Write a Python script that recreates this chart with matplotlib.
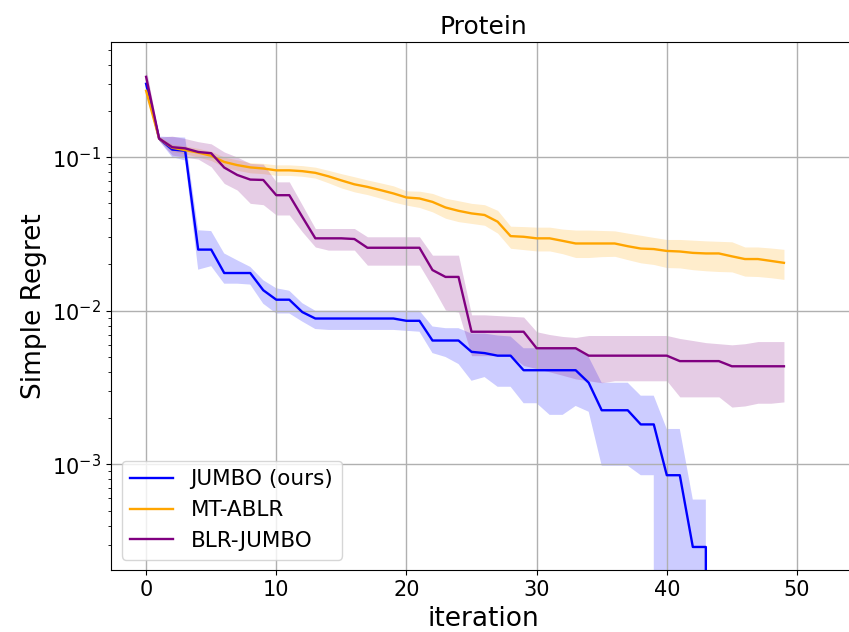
import numpy as np
import matplotlib
matplotlib.use('Agg')
import matplotlib.pyplot as plt

plt.rcParams['font.family'] = 'DejaVu Sans'

# iterations
iters = np.arange(50)

# JUMBO (ours)
jumbo_mean = [0.30, 0.132, 0.112, 0.110, 0.025, 0.025, 0.0176, 0.0176, 0.0176, 0.0136,
              0.0118, 0.0118, 0.0098, 0.0089, 0.0089, 0.0089, 0.0089, 0.0089, 0.0089, 0.0089,
              0.0086, 0.0086, 0.0064, 0.0064, 0.0064, 0.0054, 0.0053, 0.0051, 0.0051, 0.0041,
              0.0041, 0.0041, 0.0041, 0.0041, 0.0034, 0.00225, 0.00225, 0.00225, 0.00182, 0.00182,
              0.00085, 0.00085, 0.00029, 0.00029, 0, 0, 0, 0, 0, 0]
jumbo_upper = [0.34, 0.136, 0.135, 0.134, 0.0334, 0.033, 0.0236, 0.0213, 0.0193, 0.0158,
               0.0140, 0.0135, 0.0112, 0.0100, 0.0100, 0.0100, 0.0100, 0.0100, 0.0100, 0.0100,
               0.0100, 0.0100, 0.0079, 0.0077, 0.0077, 0.0071, 0.0071, 0.0069, 0.0068, 0.0057,
               0.0057, 0.0057, 0.0057, 0.0057, 0.0050, 0.0034, 0.0034, 0.0034, 0.0028, 0.0028,
               0.0017, 0.0017, 0.00059, 0.00059, 0, 0, 0, 0, 0, 0]
jumbo_lower = [0.27, 0.128, 0.100, 0.095, 0.0185, 0.0195, 0.0150, 0.0150, 0.0148, 0.0111,
               0.0096, 0.0096, 0.0085, 0.0076, 0.0075, 0.0075, 0.0075, 0.0075, 0.0075, 0.0075,
               0.0074, 0.0073, 0.0053, 0.0050, 0.0045, 0.0035, 0.0037, 0.0032, 0.0032, 0.0025,
               0.0025, 0.0021, 0.0021, 0.0024, 0.0022, 0.00098, 0.00098, 0.00098, 0.00085, 0.00085,
               0, 0, 0, 0, 0, 0, 0, 0, 0, 0]

# MT-ABLR
mt_mean = [0.27, 0.132, 0.115, 0.111, 0.107, 0.102, 0.093, 0.0887, 0.0857, 0.0843,
           0.082, 0.082, 0.081, 0.079, 0.075, 0.0705, 0.0665, 0.064, 0.061, 0.058,
           0.0546, 0.0538, 0.0511, 0.047, 0.0447, 0.043, 0.042, 0.038, 0.0306, 0.0303,
           0.0296, 0.0296, 0.0285, 0.0274, 0.0274, 0.0274, 0.0274, 0.0263, 0.0254, 0.0252,
           0.0245, 0.0243, 0.0238, 0.0236, 0.0236, 0.0226, 0.0217, 0.0217, 0.0211, 0.0205]
mt_upper = [0.29, 0.136, 0.121, 0.118, 0.114, 0.109, 0.100, 0.096, 0.092, 0.091,
            0.089, 0.089, 0.088, 0.086, 0.082, 0.078, 0.0745, 0.071, 0.068, 0.065,
            0.0603, 0.060, 0.058, 0.054, 0.052, 0.050, 0.049, 0.045, 0.0355, 0.0353,
            0.035, 0.035, 0.034, 0.0335, 0.0335, 0.0333, 0.0331, 0.032, 0.031, 0.030,
            0.0291, 0.0291, 0.0288, 0.0285, 0.0283, 0.0281, 0.026, 0.026, 0.0256, 0.0251]
mt_lower = [0.25, 0.128, 0.109, 0.105, 0.100, 0.095, 0.086, 0.082, 0.079, 0.078,
            0.076, 0.076, 0.075, 0.073, 0.068, 0.063, 0.0594, 0.057, 0.054, 0.051,
            0.0487, 0.047, 0.044, 0.040, 0.038, 0.037, 0.036, 0.032, 0.0255, 0.0250,
            0.0245, 0.0245, 0.0235, 0.0222, 0.0222, 0.0225, 0.0226, 0.0215, 0.0205, 0.020,
            0.0191, 0.019, 0.0185, 0.0182, 0.018, 0.0179, 0.0168, 0.0167, 0.0164, 0.016]

# BLR-JUMBO
blr_mean = [0.333, 0.132, 0.116, 0.114, 0.108, 0.106, 0.0855, 0.0765, 0.0714, 0.071,
            0.0565, 0.0565, 0.0408, 0.0296, 0.0296, 0.0296, 0.0293, 0.0257, 0.0257, 0.0257,
            0.0257, 0.0257, 0.0184, 0.0166, 0.0166, 0.0073, 0.0073, 0.0073, 0.0073, 0.0073,
            0.0057, 0.0057, 0.0057, 0.0057, 0.0051, 0.0051, 0.0051, 0.0051, 0.0051, 0.0051,
            0.0051, 0.0047, 0.0047, 0.0047, 0.0047, 0.00435, 0.00435, 0.00435, 0.00435, 0.00435]
blr_upper = [0.38, 0.135, 0.137, 0.132, 0.126, 0.122, 0.108, 0.100, 0.091, 0.090,
             0.069, 0.069, 0.0487, 0.0343, 0.0343, 0.0343, 0.0343, 0.0303, 0.0303, 0.0303,
             0.0303, 0.0303, 0.023, 0.023, 0.023, 0.0094, 0.0094, 0.0093, 0.0092, 0.0091,
             0.0073, 0.0070, 0.0068, 0.0067, 0.0069, 0.0069, 0.0069, 0.0069, 0.0069, 0.0069,
             0.0069, 0.0066, 0.0064, 0.0062, 0.0061, 0.0060, 0.0061, 0.0063, 0.0063, 0.0063]
blr_lower = [0.29, 0.128, 0.103, 0.100, 0.097, 0.0865, 0.0674, 0.061, 0.050, 0.049,
             0.042, 0.042, 0.0326, 0.026, 0.0248, 0.0248, 0.0248, 0.0198, 0.0198, 0.0198,
             0.0198, 0.0198, 0.0143, 0.0101, 0.0098, 0.0051, 0.0051, 0.0051, 0.0051, 0.0044,
             0.0042, 0.0040, 0.0038, 0.0036, 0.0035, 0.0034, 0.0035, 0.0035, 0.0035, 0.0035,
             0.0035, 0.00275, 0.00275, 0.00275, 0.00275, 0.00236, 0.0024, 0.0025, 0.0025, 0.00255]

series = [
    ('JUMBO (ours)', jumbo_mean, jumbo_lower, jumbo_upper, 'blue'),
    ('MT-ABLR', mt_mean, mt_lower, mt_upper, 'orange'),
    ('BLR-JUMBO', blr_mean, blr_lower, blr_upper, 'purple'),
]

fig = plt.figure(figsize=(8.49, 6.32), dpi=100)
# axes runs slightly past the right edge, as in the cropped original
ax = fig.add_axes([0.1307, 0.0975, 0.877, 0.836])

for name, mean, lo, hi, color in series:
    ax.plot(iters, mean, color=color, lw=1.7, label=name)
    ax.fill_between(iters, lo, hi, color=color, alpha=0.2, lw=0)

ax.set_yscale('log')
ax.set_xlim(-2.7, 54.5)
ax.set_ylim(10 ** -3.69, 10 ** -0.251)
ax.set_xticks([0, 10, 20, 30, 40, 50])
ax.grid(True, which='major', color='#b0b0b0', lw=1.0)
ax.tick_params(axis='both', which='major', labelsize=15)

ax.set_title('Protein', fontsize=18)
ax.set_xlabel('iteration', fontsize=19)
ax.set_ylabel('Simple Regret', fontsize=19)

ax.legend(loc='lower left', fontsize=15.5)

plt.savefig('out.png', dpi=100)
plt.close()
